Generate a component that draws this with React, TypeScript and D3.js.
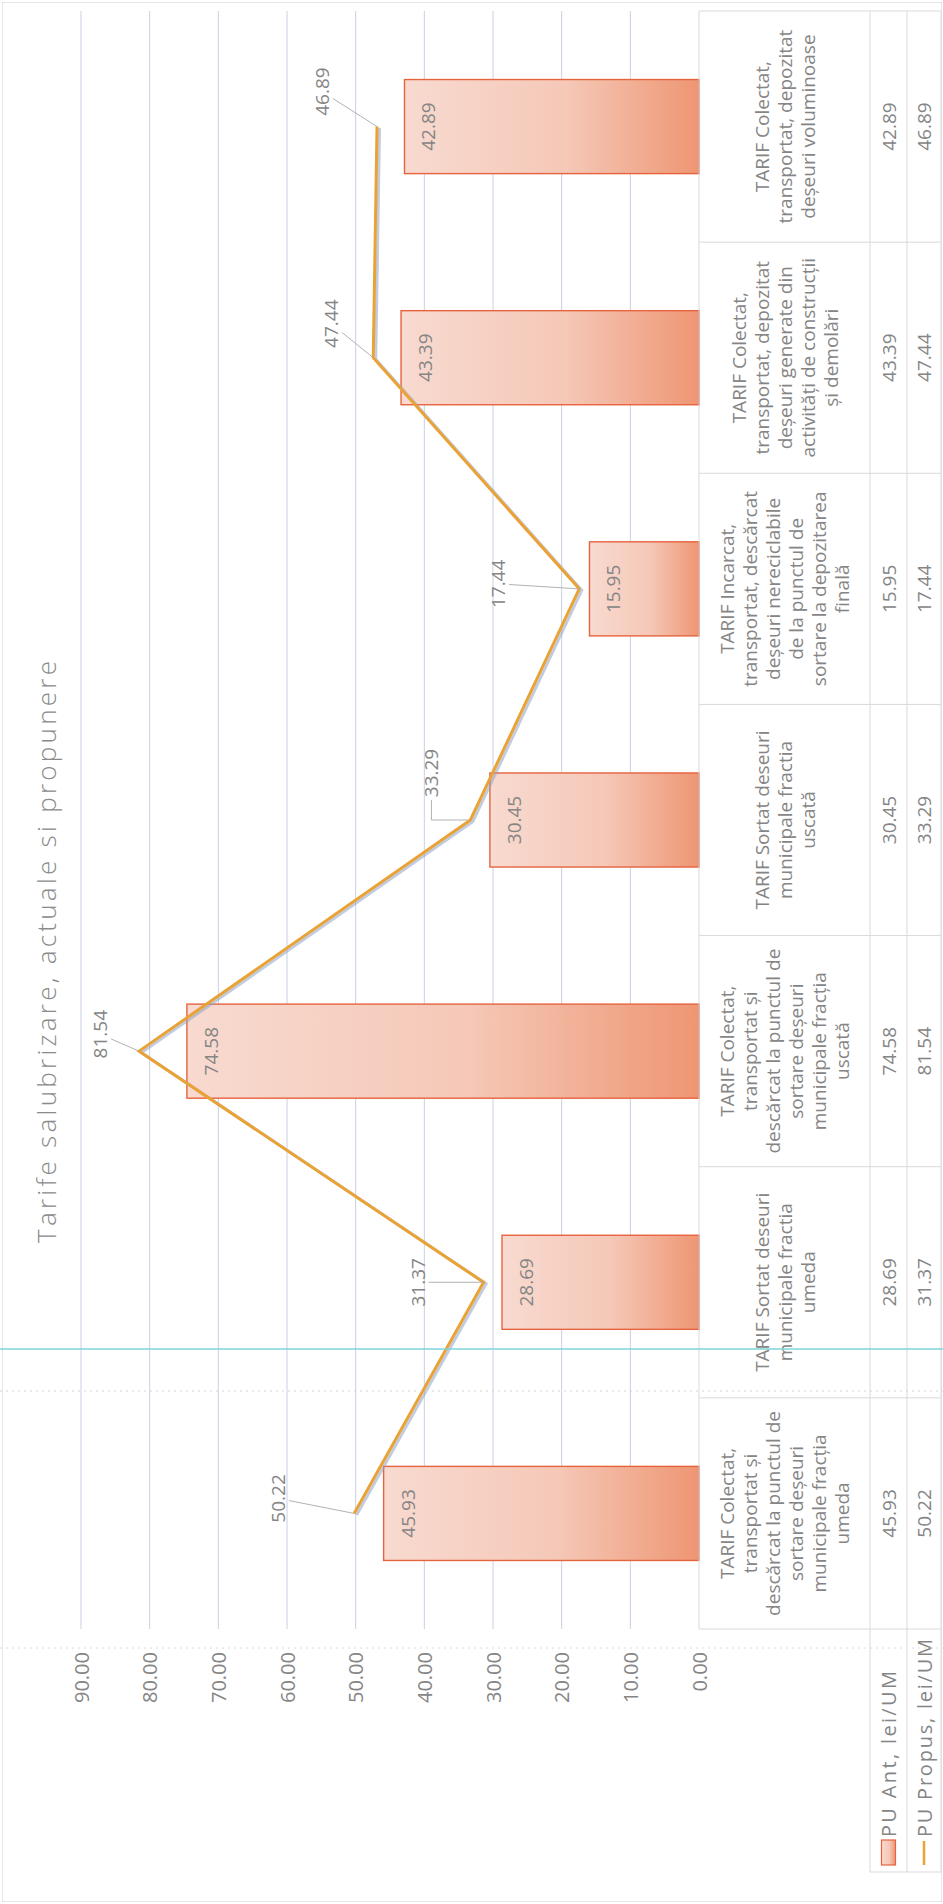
import React from 'react';
import * as d3 from 'd3';

// ---------------- data ----------------
const title = 'Tarife salubrizare, actuale si propunere';

const categoryLines: string[][] = [
  ['TARIF Colectat,', 'transportat și', 'descărcat la punctul de', 'sortare deșeuri', 'municipale fracția', 'umeda'],
  ['TARIF Sortat deseuri', 'municipale fractia', 'umeda'],
  ['TARIF Colectat,', 'transportat și', 'descărcat la punctul de', 'sortare deșeuri', 'municipale fracția', 'uscată'],
  ['TARIF Sortat deseuri', 'municipale fractia', 'uscată'],
  ['TARIF Incarcat,', 'transportat, descărcat', 'deșeuri nereciclabile', 'de la punctul de', 'sortare la depozitarea', 'finală'],
  ['TARIF Colectat,', 'transportat, depozitat', 'deșeuri generate din', 'activități de construcții', 'și demolări'],
  ['TARIF Colectat,', 'transportat, depozitat', 'deșeuri voluminoase'],
];

const puAnt = [45.93, 28.69, 74.58, 30.45, 15.95, 43.39, 42.89];
const puPropus = [50.22, 31.37, 81.54, 33.29, 17.44, 47.44, 46.89];

const seriesNames = ['PU Ant, lei/UM', 'PU Propus, lei/UM'];
const valueTicks = [0, 10, 20, 30, 40, 50, 60, 70, 80, 90];

// layout of the manually placed line labels (chart frame offsets)
const propLabelOffsets: [number, number][] = [
  [15, -76], [0, -66], [17, -39], [47, -39], [5, -81], [34, -42], [35, -55],
];
const propLabelElbow = [false, false, false, true, false, false, false];

// ---------------- component ----------------
export default function App() {
  const PW = 943;
  const PH = 1904;

  // chart frame (unrotated): width along page height
  const plotL = 275;
  const plotR = 1893;
  const base = 699;
  const top90 = 81;
  const rowB = [699, 870, 907, 941];
  const headL = 32;

  const ids = categoryLines.map((_, i) => String(i));
  const x = d3.scaleBand<string>().domain(ids).range([plotL, plotR]).padding(0);
  const y = d3.scaleLinear().domain([0, 90]).range([base, top90]);
  const bw = x.bandwidth();
  const barW = bw * 0.407;
  const cOf = (i: number) => (x(ids[i]) as number) + bw / 2;

  const fmt = d3.format('.2f');
  const pts: [number, number][] = puPropus.map((v, i) => [cOf(i), y(v)]);
  const linePath = d3.line()(pts) as string;

  const font = "'Open Sans', 'Noto Sans', 'DejaVu Sans', sans-serif";
  const txt = '#858585';
  const tableStroke = '#d9d9d9';
  const gridStroke = '#c9d0e2';
  const orange = '#E9A233';
  const fw = 400;

  const lineH = 23;
  const row1Mid = (rowB[0] + rowB[1]) / 2;
  const row2Mid = (rowB[1] + rowB[2]) / 2;
  const row3Mid = (rowB[2] + rowB[3]) / 2;

  // leader lines
  const leaders = pts.map(([px, py], i) => {
    const [dx, dy] = propLabelOffsets[i];
    const lx = px + dx;
    const ly = py + dy;
    const hw = 27;
    const hh = 11;
    if (propLabelElbow[i]) {
      return `M${lx - hw},${ly}L${px},${ly}L${px},${py - 2}`;
    }
    const vx = px - lx;
    const vy = py - ly;
    const t = Math.min(vx !== 0 ? hw / Math.abs(vx) : Infinity, vy !== 0 ? hh / Math.abs(vy) : Infinity);
    const sx = lx + vx * t;
    const sy = ly + vy * t;
    return `M${sx},${sy}L${px},${py}`;
  });

  return (
    <svg
      width={PW}
      height={PH}
      viewBox={`0 0 ${PW} ${PH}`}
      style={{ position: 'absolute', left: 0, top: 0, background: '#ffffff' }}
      fontFamily={font}
    >
      <defs>
        <linearGradient id="barGrad" x1="0" y1="0" x2="0" y2="1">
          <stop offset="0%" stopColor="#F8DAD0" />
          <stop offset="55%" stopColor="#F5C8B7" />
          <stop offset="100%" stopColor="#EE9673" />
        </linearGradient>
      </defs>
      <rect x={0} y={0} width={PW} height={PH} fill="#ffffff" />
      <rect x={2.5} y={2.5} width={PW - 4} height={PH - 5} fill="none" stroke="#e6e6e6" strokeWidth={1} />

      <g transform={`translate(0,${PH}) rotate(-90)`}>
        {/* title */}
        <text
          x={952}
          y={56}
          textAnchor="middle"
          fontSize={26}
          fill="#8a8a8a"
          fontWeight={300}
          textLength={582}
          lengthAdjust="spacing"
        >
          {title}
        </text>

        {/* gridlines */}
        {valueTicks.filter((t) => t > 0).map((t) => (
          <line key={t} x1={plotL} x2={plotR} y1={y(t)} y2={y(t)} stroke={gridStroke} strokeWidth={1} />
        ))}

        {/* tick labels */}
        {valueTicks.map((t) => (
          <text
            key={t}
            x={252}
            y={y(t)}
            textAnchor="end"
            dominantBaseline="central"
            fontSize={20}
            fill={txt}
            fontWeight={fw}
          >
            {fmt(t)}
          </text>
        ))}

        {/* bars */}
        {puAnt.map((v, i) => (
          <rect
            key={i}
            x={cOf(i) - barW / 2}
            y={y(v)}
            width={barW}
            height={y(0) - y(v)}
            fill="url(#barGrad)"
            stroke="#E6633E"
            strokeWidth={1.4}
          />
        ))}
        {puAnt.map((v, i) => (
          <text
            key={i}
            x={cOf(i)}
            y={y(v) + 24}
            textAnchor="middle"
            dominantBaseline="central"
            fontSize={19}
            fill={txt}
            fontWeight={fw}
          >
            {fmt(v)}
          </text>
        ))}

        {/* line with shadow */}
        <path d={linePath} fill="none" stroke="#8fa3c6" strokeOpacity={0.55} strokeWidth={3} transform="translate(-1.5,2.5)" strokeLinejoin="miter" />
        <path d={linePath} fill="none" stroke={orange} strokeWidth={3} strokeLinejoin="miter" />

        {/* line labels + leaders */}
        {leaders.map((d, i) => (
          <path key={i} d={d} fill="none" stroke="#a9a9a9" strokeWidth={0.9} />
        ))}
        {pts.map(([px, py], i) => (
          <text
            key={i}
            x={px + propLabelOffsets[i][0]}
            y={py + propLabelOffsets[i][1]}
            textAnchor="middle"
            dominantBaseline="central"
            fontSize={19}
            fill={txt}
            fontWeight={fw}
          >
            {fmt(puPropus[i])}
          </text>
        ))}

        {/* data table */}
        <g stroke={tableStroke} strokeWidth={1} fill="none">
          <line x1={plotL} x2={plotR} y1={rowB[0]} y2={rowB[0]} />
          <line x1={headL} x2={plotR} y1={rowB[1]} y2={rowB[1]} />
          <line x1={headL} x2={plotR} y1={rowB[2]} y2={rowB[2]} />
          <line x1={headL} x2={plotR} y1={rowB[3]} y2={rowB[3]} />
          <line x1={headL} x2={headL} y1={rowB[1]} y2={rowB[3]} />
          {ids.map((id) => (
            <line key={id} x1={x(id) as number} x2={x(id) as number} y1={rowB[0]} y2={rowB[3]} />
          ))}
          <line x1={plotR} x2={plotR} y1={rowB[0]} y2={rowB[3]} />
        </g>

        {categoryLines.map((lines, i) => (
          <text key={i} textAnchor="middle" fontSize={19} fill={txt} fontWeight={fw}>
            {lines.map((ln, j) => (
              <tspan
                key={j}
                x={cOf(i)}
                y={row1Mid + (j - (lines.length - 1) / 2) * lineH}
                dominantBaseline="central"
              >
                {ln}
              </tspan>
            ))}
          </text>
        ))}
        {puAnt.map((v, i) => (
          <text key={i} x={cOf(i)} y={row2Mid} textAnchor="middle" dominantBaseline="central" fontSize={19} fill={txt} fontWeight={fw}>
            {fmt(v)}
          </text>
        ))}
        {puPropus.map((v, i) => (
          <text key={i} x={cOf(i)} y={row3Mid} textAnchor="middle" dominantBaseline="central" fontSize={19} fill={txt} fontWeight={fw}>
            {fmt(v)}
          </text>
        ))}

        {/* legend keys in header column */}
        <rect x={39} y={row2Mid - 7} width={25} height={14} fill="url(#barGrad)" stroke="#E6633E" strokeWidth={1.2} />
        <text x={67} y={row2Mid} dominantBaseline="central" fontSize={20} fill={txt} fontWeight={fw} textLength={166} lengthAdjust="spacing">
          {seriesNames[0]}
        </text>
        <line x1={39} x2={63} y1={row3Mid} y2={row3Mid} stroke={orange} strokeWidth={2.5} />
        <text x={67} y={row3Mid} dominantBaseline="central" fontSize={20} fill={txt} fontWeight={fw} textLength={198} lengthAdjust="spacing">
          {seriesNames[1]}
        </text>
      </g>

      {/* scan artefacts of the reference page */}
      <line x1={0} x2={PW} y1={1391} y2={1391} stroke="#d4d4d4" strokeWidth={1} strokeDasharray="2,4" />
      <line x1={0} x2={PW} y1={1648} y2={1648} stroke="#dcdcdc" strokeWidth={1} strokeDasharray="2,4" />
      <line x1={0} x2={PW} y1={1349} y2={1349} stroke="#7fd3dc" strokeWidth={1.5} />
    </svg>
  );
}
